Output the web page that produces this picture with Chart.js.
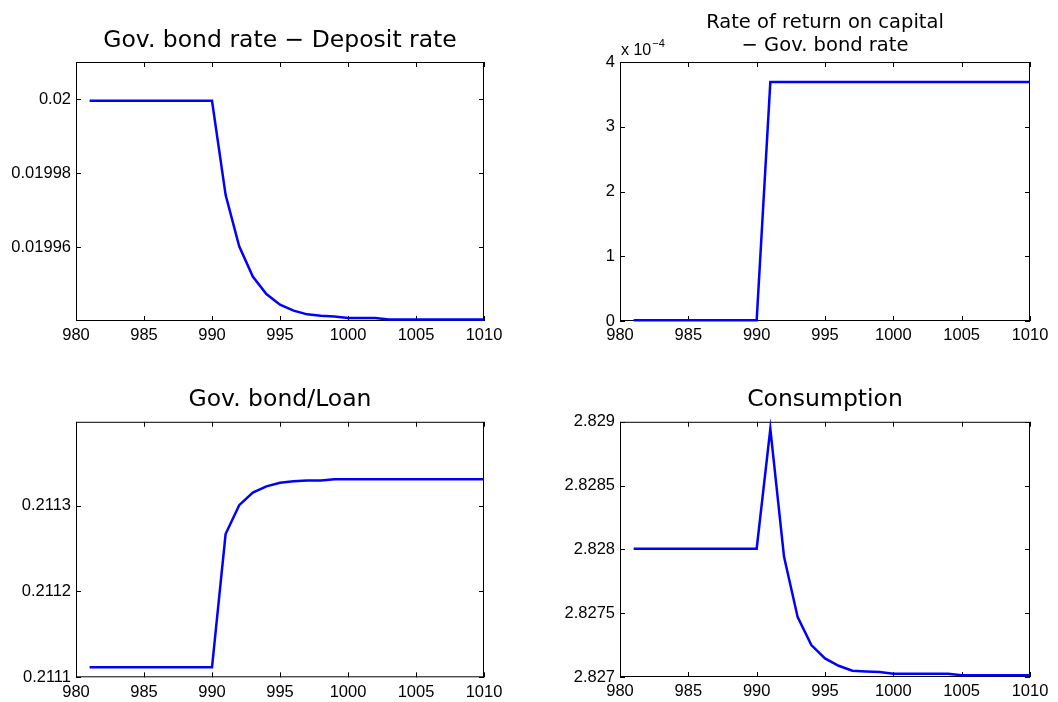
<!DOCTYPE html>
<html>
<head>
<meta charset="utf-8">
<script src="https://cdn.jsdelivr.net/npm/chart.js@4"></script>
<style>
  body { margin: 0; background: #fff; }
  .panel { position: absolute; }
</style>
</head>
<body>
<div class="panel" style="left:0;top:0"><canvas id="c1" width="529" height="351"></canvas></div>
<div class="panel" style="left:529px;top:0"><canvas id="c2" width="529" height="351"></canvas></div>
<div class="panel" style="left:0;top:351px"><canvas id="c3" width="529" height="351"></canvas></div>
<div class="panel" style="left:529px;top:351px"><canvas id="c4" width="529" height="351"></canvas></div>
<script>
const years = [981, 982, 983, 984, 985, 986, 987, 988, 989, 990,
  991, 992, 993, 994, 995, 996, 997, 998, 999, 1000,
  1001, 1002, 1003, 1004, 1005, 1006, 1007, 1008, 1009, 1010];

const bondDepositSpread = [
  0.0199995, 0.0199995, 0.0199995, 0.0199995, 0.0199995, 0.0199995, 0.0199995, 0.0199995, 0.0199995, 0.0199995,
  0.0199741, 0.0199602, 0.019952, 0.0199473, 0.0199444, 0.0199428, 0.0199418, 0.0199414, 0.0199412, 0.0199408,
  0.0199408, 0.0199408, 0.0199404, 0.0199404, 0.0199404, 0.0199404, 0.0199404, 0.0199404, 0.0199404, 0.0199404];

const capitalBondSpread = [
  0.000001, 0.000001, 0.000001, 0.000001, 0.000001, 0.000001, 0.000001, 0.000001, 0.000001, 0.000001,
  3.69e-4, 3.69e-4, 3.69e-4, 3.69e-4, 3.69e-4, 3.69e-4, 3.69e-4, 3.69e-4, 3.69e-4, 3.69e-4,
  3.69e-4, 3.69e-4, 3.69e-4, 3.69e-4, 3.69e-4, 3.69e-4, 3.69e-4, 3.69e-4, 3.69e-4, 3.69e-4];

const bondLoanRatio = [
  0.2111116, 0.2111116, 0.2111116, 0.2111116, 0.2111116, 0.2111116, 0.2111116, 0.2111116, 0.2111116, 0.2111116,
  0.2112669, 0.2113005, 0.2113151, 0.2113225, 0.2113267, 0.2113283, 0.2113294, 0.2113294, 0.2113306, 0.2113306,
  0.2113306, 0.2113306, 0.2113306, 0.2113306, 0.2113306, 0.2113306, 0.2113306, 0.2113306, 0.2113306, 0.2113306];

const consumption = [
  2.828005, 2.828005, 2.828005, 2.828005, 2.828005, 2.828005, 2.828005, 2.828005, 2.828005, 2.828005,
  2.828945, 2.827944, 2.827469, 2.82725, 2.827146, 2.827088, 2.827049, 2.827044, 2.827039, 2.827026,
  2.827026, 2.827026, 2.827026, 2.827026, 2.827013, 2.827013, 2.827013, 2.827013, 2.827013, 2.827013];

const xTicks = [980, 985, 990, 995, 1000, 1005, 1010];
const yTicks1 = [0.01996, 0.01998, 0.02];
const yLabels1 = ["0.01996", "0.01998", "0.02"];
const yTicks2 = [0, 1e-4, 2e-4, 3e-4, 4e-4];
const yLabels2 = ["0", "1", "2", "3", "4"];
const yTicks3 = [0.2111, 0.2112, 0.2113];
const yLabels3 = ["0.2111", "0.2112", "0.2113"];
const yTicks4 = [2.827, 2.8275, 2.828, 2.8285, 2.829];
const yLabels4 = ["2.827", "2.8275", "2.828", "2.8285", "2.829"];

const tickFont = { family: "'Liberation Sans', Arial, sans-serif", size: 16.5 };

// matlab style box with inward ticks on all four sides
const boxPlugin = {
  id: "box",
  beforeDatasetsDraw(chart) {
    const { ctx, chartArea: a, scales } = chart;
    ctx.save();
    ctx.strokeStyle = "#000";
    ctx.lineWidth = 1;
    ctx.strokeRect(a.left + 0.5, a.top + 0.5, a.right - a.left - 1, a.bottom - a.top - 1);
    ctx.beginPath();
    scales.x.ticks.forEach(t => {
      const px = Math.round(scales.x.getPixelForValue(t.value)) + 0.5;
      ctx.moveTo(px, a.bottom); ctx.lineTo(px, a.bottom - 5);
      ctx.moveTo(px, a.top); ctx.lineTo(px, a.top + 5);
    });
    scales.y.ticks.forEach(t => {
      const py = Math.round(scales.y.getPixelForValue(t.value)) + 0.5;
      ctx.moveTo(a.left, py); ctx.lineTo(a.left + 5, py);
      ctx.moveTo(a.right, py); ctx.lineTo(a.right - 5, py);
    });
    ctx.stroke();
    const ex = chart.options.plugins.box && chart.options.plugins.box.exponent;
    if (ex) {
      ctx.fillStyle = "#000";
      ctx.textBaseline = "alphabetic";
      ctx.font = "16px 'Liberation Sans', Arial, sans-serif";
      ctx.fillText("x 10", a.left + 1, a.top - 7);
      const w = ctx.measureText("x 10").width;
      ctx.font = "11px 'Liberation Sans', Arial, sans-serif";
      ctx.fillText(ex, a.left + 2 + w, a.top - 15);
    }
    ctx.restore();
  }
};

function makeChart(id, opts) {
  new Chart(document.getElementById(id), {
    type: "line",
    data: {
      labels: years,
      datasets: [{
        data: opts.values,
        borderColor: "#0000ff",
        borderWidth: 2.5,
        pointRadius: 0,
        tension: 0,
        fill: false,
        clip: 3
      }]
    },
    options: {
      responsive: false,
      animation: false,
      layout: { padding: { left: 0, top: 0, right: opts.right, bottom: 0 } },
      plugins: {
        legend: { display: false },
        tooltip: { enabled: false },
        title: {
          display: true,
          text: opts.title,
          fullSize: false,
          color: "#000",
          font: { family: "'DejaVu Sans', sans-serif", size: opts.titleSize, weight: "normal", lineHeight: opts.titleLH },
          padding: { top: opts.titleTop, bottom: opts.titleBottom }
        },
        box: { exponent: opts.exponent }
      },
      scales: {
        x: {
          type: "linear",
          min: 980,
          max: 1010,
          grid: { display: false, drawTicks: false },
          border: { display: false },
          afterBuildTicks: s => { s.ticks = xTicks.map(v => ({ value: v })); },
          afterFit: s => { s.height = opts.xh; },
          ticks: { color: "#000", font: tickFont, padding: 5, maxRotation: 0, callback: v => String(v) }
        },
        y: {
          min: opts.yMin,
          max: opts.yMax,
          grid: { display: false, drawTicks: false },
          border: { display: false },
          afterBuildTicks: s => { s.ticks = opts.yTicks.map(v => ({ value: v })); },
          afterFit: s => { s.width = opts.left; },
          ticks: {
            color: "#000", font: tickFont, padding: 5,
            callback: (v, i) => opts.yLabels[i]
          }
        }
      }
    },
    plugins: [boxPlugin]
  });
}

makeChart("c1", {
  values: bondDepositSpread, title: "Gov. bond rate \u2212 Deposit rate",
  yMin: 0.01994, yMax: 0.02001, yTicks: yTicks1, yLabels: yLabels1,
  left: 76, right: 45, xh: 30, titleSize: 23.5, titleLH: 1.2, titleTop: 27, titleBottom: 6.8
});
makeChart("c2", {
  values: capitalBondSpread, title: ["Rate of return on capital", "\u2212 Gov. bond rate"],
  yMin: 0, yMax: 4e-4, yTicks: yTicks2, yLabels: yLabels2, exponent: "\u22124",
  left: 91, right: 28, xh: 30, titleSize: 19.5, titleLH: 1.18, titleTop: 11.5, titleBottom: 4.5
});
makeChart("c3", {
  values: bondLoanRatio, title: "Gov. bond/Loan",
  yMin: 0.2111, yMax: 0.21139767, yTicks: yTicks3, yLabels: yLabels3,
  left: 76, right: 45, xh: 24.7, titleSize: 23.5, titleLH: 1.2, titleTop: 35, titleBottom: 7.6
});
makeChart("c4", {
  values: consumption, title: "Consumption",
  yMin: 2.827, yMax: 2.829, yTicks: yTicks4, yLabels: yLabels4,
  left: 91, right: 28, xh: 25, titleSize: 23.5, titleLH: 1.2, titleTop: 35, titleBottom: 7.6
});
</script>
</body>
</html>
